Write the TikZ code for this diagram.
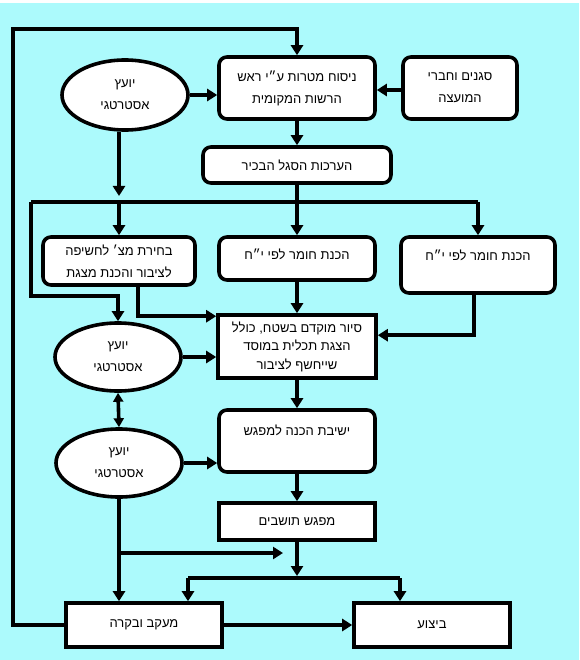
\documentclass[tikz,border=0pt]{standalone}
\usepackage{fontspec}
\newfontfamily\hebfont[Script=Hebrew]{Liberation Sans}
\TeXXeTstate=1
\usetikzlibrary{arrows.meta,shapes.geometric,calc}
\definecolor{bgcyan}{RGB}{172,250,252}
\newcommand{\heb}[1]{{\hebfont\beginR #1\endR}}
\begin{document}
\begin{tikzpicture}[x=1pt,y=-1pt,
  line width=3.6pt,
  every node/.style={font=\fontsize{13}{22}\selectfont},
  rbox/.style={draw, fill=white, rounded corners=8pt, inner sep=0pt, align=center},
  sbox/.style={draw, fill=white, inner sep=0pt, align=center},
  oval/.style={draw, fill=white, ellipse, inner sep=0pt, align=center, minimum width=126pt, minimum height=68pt},
  arr/.style={-{Triangle[length=10pt,width=12pt]}},
  darr/.style={{Triangle[length=9pt,width=10pt]}-{Triangle[length=9pt,width=10pt]}},
]
\fill[bgcyan] (0,0) rectangle (579,660);
\fill[white] (0,0) rectangle (579,3);
\useasboundingbox (0,0) rectangle (579,660);

% nodes
\node[rbox, minimum width=156pt, minimum height=62pt] (nis) at (297,88)
  {\heb{ניסוח מטרות ע״י ראש}\\\heb{הרשות המקומית}};
\node[rbox, minimum width=114pt, minimum height=62pt] (sgn) at (460,88)
  {\heb{סגנים וחברי}\\\heb{המועצה}};
\node[oval, minimum height=70pt] (e1) at (125,95) {\heb{יועץ}\\\heb{אסטרטגי}};
\node[rbox, minimum width=188pt, minimum height=36pt] (herk) at (297,165)
  {\heb{הערכות הסגל הבכיר}};
\node[rbox, minimum width=152pt, minimum height=48pt] (bch) at (119,261)
  {\heb{בחירת מצ׳ לחשיפה}\\\heb{לציבור והכנת מצגת}};
\node[rbox, minimum width=156pt, minimum height=43pt, text height=22pt, text depth=21pt] (hk1) at (297,258.5)
  {\heb{הכנת חומר לפי י״ח}};
\node[rbox, minimum width=154pt, minimum height=56pt, text height=23pt, text depth=33pt] (hk2) at (478,265)
  {\heb{הכנת חומר לפי י״ח}};
\node[sbox, minimum width=158pt, minimum height=63pt, font=\fontsize{13}{18.5}\selectfont] (syr) at (297,346.5)
  {\heb{סיור מוקדם בשטח, כולל}\\\heb{הצגת תכלית במוסד}\\\heb{שייחשף לציבור}};
\node[oval] (e2) at (118,357) {\heb{יועץ}\\\heb{אסטרטגי}};
\node[oval] (e3) at (119,463) {\heb{יועץ}\\\heb{אסטרטגי}};
\node[rbox, minimum width=156pt, minimum height=62pt, text height=25pt, text depth=37pt] (ys) at (297,441)
  {\heb{ישיבת הכנה למפגש}};
\node[sbox, minimum width=156pt, minimum height=37pt] (mfg) at (297,521.5)
  {\heb{מפגש תושבים}};
\node[sbox, minimum width=156pt, minimum height=44pt] (mkb) at (144,625)
  {\heb{מעקב ובקרה}};
\node[sbox, minimum width=156pt, minimum height=44pt] (bz) at (432,625)
  {\heb{ביצוע}};

% coordinates
\coordinate (tl) at (13,29);
\coordinate (jl) at (31,202);
\coordinate (jm) at (297,202);
\coordinate (jr) at (478,202);
\coordinate (jl2) at (31,296);
\coordinate (j4) at (119,553);
\coordinate (j5) at (283,553);
\coordinate (hl) at (188,578);
\coordinate (hr) at (400,578);

% connectors
\draw[arr] (mkb.west) -| (tl) -| (nis.north);
\draw[arr] (e1.east) -- (e1.east -| nis.west);
\draw[arr] ($(sgn.west)+(0,2)$) -- ($(nis.east)+(0,2)$);
\draw[arr] (nis.south) -- (herk.north);
\draw (herk.south) -- (jm);
\draw (jl) -- (jr);
\draw[arr] (jm) -- (hk1.north);
\draw[arr] (jr) -- (hk2.north);
\draw[arr] (bch.north |- jl) -- (bch.north);
\draw[arr] (e1.south -| bch.north) -- ($(bch.north |- jl)+(0,-6)$);
\draw[arr] (jl) -- (jl2) -| (e2.north);
\draw[arr] ($(bch.south)+(19,0)$) |- ($(syr.north west)+(0,3)$);
\draw[arr] (hk1.south) -- (syr.north);
\draw[arr] ($(hk2.south)+(-4,0)$) |- ($(syr.north east)+(0,22)$);
\draw[arr] (e2.east) -- (e2.east -| syr.west);
\draw[arr] (syr.south) -- (ys.north);
\draw[darr] (e2.south) -- (e3.north);
\draw[arr] (e3.east) -- (e3.east -| ys.west);
\draw[arr] (ys.south) -- (mfg.north);
\draw[arr] (mfg.south) -- ($(mfg.south |- hl)+(0,-2)$);
\draw (hl) -- (hr);
\draw[arr] (hl) -- (hl |- mkb.north);
\draw[arr] (hr) -- (hr |- bz.north);
\draw[arr] (e3.south) -- (e3.south |- mkb.north);
\draw[arr] (j4) -- (j5);
\draw[arr] (mkb.east) -- (bz.west);
\end{tikzpicture}
\end{document}
